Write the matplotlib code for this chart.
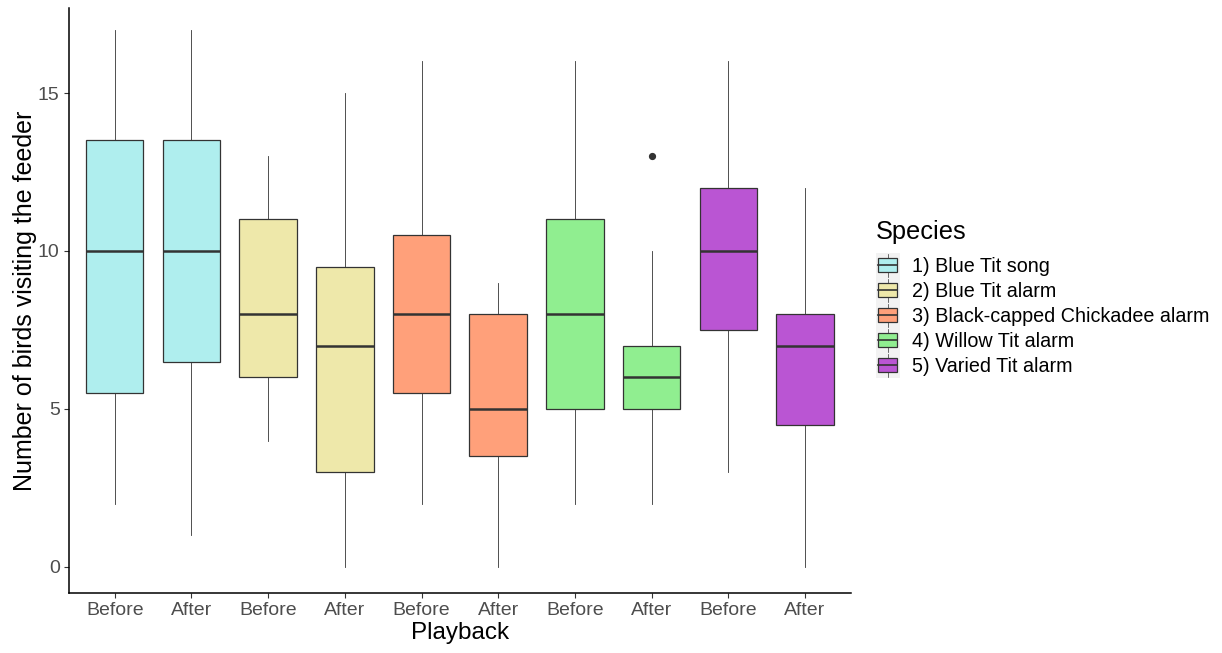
import matplotlib
matplotlib.use("Agg")
import matplotlib.pyplot as plt
from matplotlib.patches import Patch, Rectangle
from matplotlib.lines import Line2D
from matplotlib.legend_handler import HandlerBase

plt.rcParams['font.family'] = ['Liberation Sans', 'DejaVu Sans']

# Playback condition for each box, in plotting order
playback = ["Before", "After", "Before", "After", "Before",
            "After", "Before", "After", "Before", "After"]
species = ["1) Blue Tit song", "2) Blue Tit alarm",
           "3) Black-capped Chickadee alarm", "4) Willow Tit alarm",
           "5) Varied Tit alarm"]
species_idx = [0, 0, 1, 1, 2, 2, 3, 3, 4, 4]
colors = ["#AFEEEE", "#EEE8AA", "#FFA07A", "#90EE90", "#BA55D3"]

# Five-number summaries (birds visiting the feeder)
whisker_low = [2, 1, 4, 0, 2, 0, 2, 2, 3, 0]
q1 = [5.5, 6.5, 6, 3, 5.5, 3.5, 5, 5, 7.5, 4.5]
median = [10, 10, 8, 7, 8, 5, 8, 6, 10, 7]
q3 = [13.5, 13.5, 11, 9.5, 10.5, 8, 11, 7, 12, 8]
whisker_high = [17, 17, 13, 15, 16, 9, 16, 10, 16, 12]
outliers = [[], [], [], [], [], [], [], [13], [], []]

W, H = 1222, 653
fig = plt.figure(figsize=(W / 100, H / 100), dpi=100)
ax = fig.add_axes([68.7 / W, 1 - 593 / H, (851 - 68.7) / W, (593 - 8) / H])

stats = []
for i in range(len(playback)):
    stats.append(dict(med=median[i], q1=q1[i], q3=q3[i],
                      whislo=whisker_low[i], whishi=whisker_high[i],
                      fliers=outliers[i], label=playback[i]))

edge = "#333333"
positions = list(range(1, len(playback) + 1))
bp = ax.bxp(stats, positions=positions, widths=0.75, patch_artist=True,
            showcaps=False,
            boxprops=dict(edgecolor=edge, linewidth=0.9),
            medianprops=dict(color=edge, linewidth=1.8),
            whiskerprops=dict(color=edge, linewidth=0.6),
            flierprops=dict(marker='o', markersize=4.2, markerfacecolor=edge,
                            markeredgecolor=edge))
for patch, s in zip(bp['boxes'], species_idx):
    patch.set_facecolor(colors[s])

ax.set_xlim(0.4, len(playback) + 0.6)
ax.set_ylim(-0.823, 17.69)
ax.set_yticks([0, 5, 10, 15])
ax.set_xticks(positions)
ax.set_xticklabels(playback)

for side in ("top", "right"):
    ax.spines[side].set_visible(False)
for side in ("left", "bottom"):
    ax.spines[side].set_linewidth(1.1)
    ax.spines[side].set_color("black")

ax.tick_params(axis='both', direction='out', length=3.5, width=0.8,
               color=edge, labelcolor="#4D4D4D", labelsize=14, pad=3)
ax.set_xlabel("Playback", fontsize=17.5, color="black", labelpad=2)
ax.set_ylabel("Number of birds visiting the feeder", fontsize=18, color="black",
              labelpad=1)


class BoxKeyHandler(HandlerBase):
    def create_artists(self, legend, orig_handle, xdescent, ydescent,
                       width, height, fontsize, trans):
        x0, y0 = -xdescent, -ydescent
        bg = Rectangle((x0, y0), width, height, facecolor="#F2F2F2",
                       edgecolor="none", transform=trans)
        cx = x0 + width / 2
        whisk = Line2D([cx, cx], [y0 + height * 0.05, y0 + height * 0.95],
                       color=edge, linewidth=0.5, transform=trans)
        box = Rectangle((x0 + width * 0.1, y0 + height * 0.22),
                        width * 0.8, height * 0.56,
                        facecolor=orig_handle.get_facecolor(),
                        edgecolor=edge, linewidth=0.9, transform=trans)
        med = Line2D([x0 + width * 0.1, x0 + width * 0.9],
                     [y0 + height / 2, y0 + height / 2],
                     color=edge, linewidth=1.2, transform=trans)
        return [bg, whisk, box, med]


# Legend title drawn on its own so the gap to the keys can be set freely
fig.text(876 / W, 1 - 239 / H, "Species", fontsize=18.3, color="black",
         ha='left', va='baseline')

handles = [Patch(facecolor=c) for c in colors]
leg = fig.legend(handles, species, handler_map={Patch: BoxKeyHandler()},
                 loc='upper left', bbox_to_anchor=(876 / W, 1 - 253 / H),
                 frameon=False, fontsize=14.2,
                 handlelength=1.2, handleheight=1.573, labelspacing=0.0,
                 handletextpad=0.62, borderaxespad=0, borderpad=0)

fig.savefig("out.png", dpi=100)
